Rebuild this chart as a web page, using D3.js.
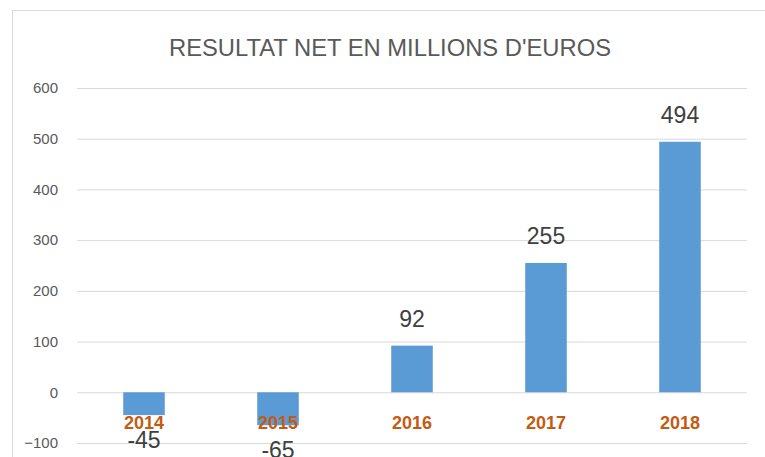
<!DOCTYPE html>
<html>
<head>
<meta charset="utf-8">
<script src="https://cdn.jsdelivr.net/npm/d3@7"></script>
<style>
  body { margin: 0; background: #fff; }
  svg { display: block; font-family: "Liberation Sans", Arial, sans-serif; }
</style>
</head>
<body>
<div id="chart"></div>
<script>
// Data
const years = ["2014", "2015", "2016", "2017", "2018"];
const values = [-45, -65, 92, 255, 494];
const yTicks = [-100, 0, 100, 200, 300, 400, 500, 600];
const title = "RESULTAT NET EN MILLIONS D'EUROS";

// Set up the SVG
const width = 765;
const height = 457;
const plot = { left: 77, right: 747, top0: 88, bottom0: 443 };

const svg = d3.select("#chart")
    .append("svg")
    .attr("width", width)
    .attr("height", height);

// chart frame
svg.append("rect")
    .attr("x", 12.5).attr("y", 10.5)
    .attr("width", 800).attr("height", 500)
    .attr("fill", "#fff")
    .attr("stroke", "#d9d9d9");

// Scales
const x = d3.scaleBand()
    .domain(years)
    .range([plot.left, plot.right])
    .paddingInner(0.69)
    .paddingOuter(0.345);

const y = d3.scaleLinear()
    .domain([-100, 600])
    .range([plot.bottom0, plot.top0]);

// Gridlines + tick labels
const yAxis = svg.append("g")
    .attr("transform", `translate(${plot.left},0)`)
    .call(d3.axisLeft(y).tickValues(yTicks).tickSize(-(plot.right - plot.left)).tickPadding(19));

yAxis.select(".domain").remove();
yAxis.selectAll(".tick line").attr("stroke", "#d9d9d9");
yAxis.selectAll(".tick text")
    .attr("fill", "#595959")
    .attr("font-size", 15)
    .attr("font-family", "Liberation Sans, Arial, sans-serif");

// Bars
svg.selectAll("rect.bar")
    .data(values)
    .enter()
    .append("rect")
    .attr("class", "bar")
    .attr("x", (d, i) => x(years[i]))
    .attr("y", d => y(Math.max(0, d)))
    .attr("width", x.bandwidth())
    .attr("height", d => Math.abs(y(d) - y(0)))
    .attr("fill", "#5b9bd5");

// Category labels (drawn over the negative bars, as in the original)
svg.selectAll("text.cat")
    .data(years)
    .enter()
    .append("text")
    .attr("class", "cat")
    .attr("x", d => x(d) + x.bandwidth() / 2)
    .attr("y", y(0) + 37)
    .attr("text-anchor", "middle")
    .attr("font-size", 18)
    .attr("font-weight", "bold")
    .attr("fill", "#c55a11")
    .text(d => d);

// Value labels
svg.selectAll("text.val")
    .data(values)
    .enter()
    .append("text")
    .attr("class", "val")
    .attr("x", (d, i) => x(years[i]) + x.bandwidth() / 2)
    .attr("y", d => d >= 0 ? y(d) - 19 : y(d) + 33)
    .attr("text-anchor", "middle")
    .attr("font-size", 23)
    .attr("fill", "#404040")
    .text(d => d);

// Title
svg.append("text")
    .attr("x", 390)
    .attr("y", 56)
    .attr("text-anchor", "middle")
    .attr("font-size", 23)
    .attr("fill", "#595959")
    .attr("textLength", 442)
    .attr("lengthAdjust", "spacingAndGlyphs")
    .text(title);
</script>
</body>
</html>
